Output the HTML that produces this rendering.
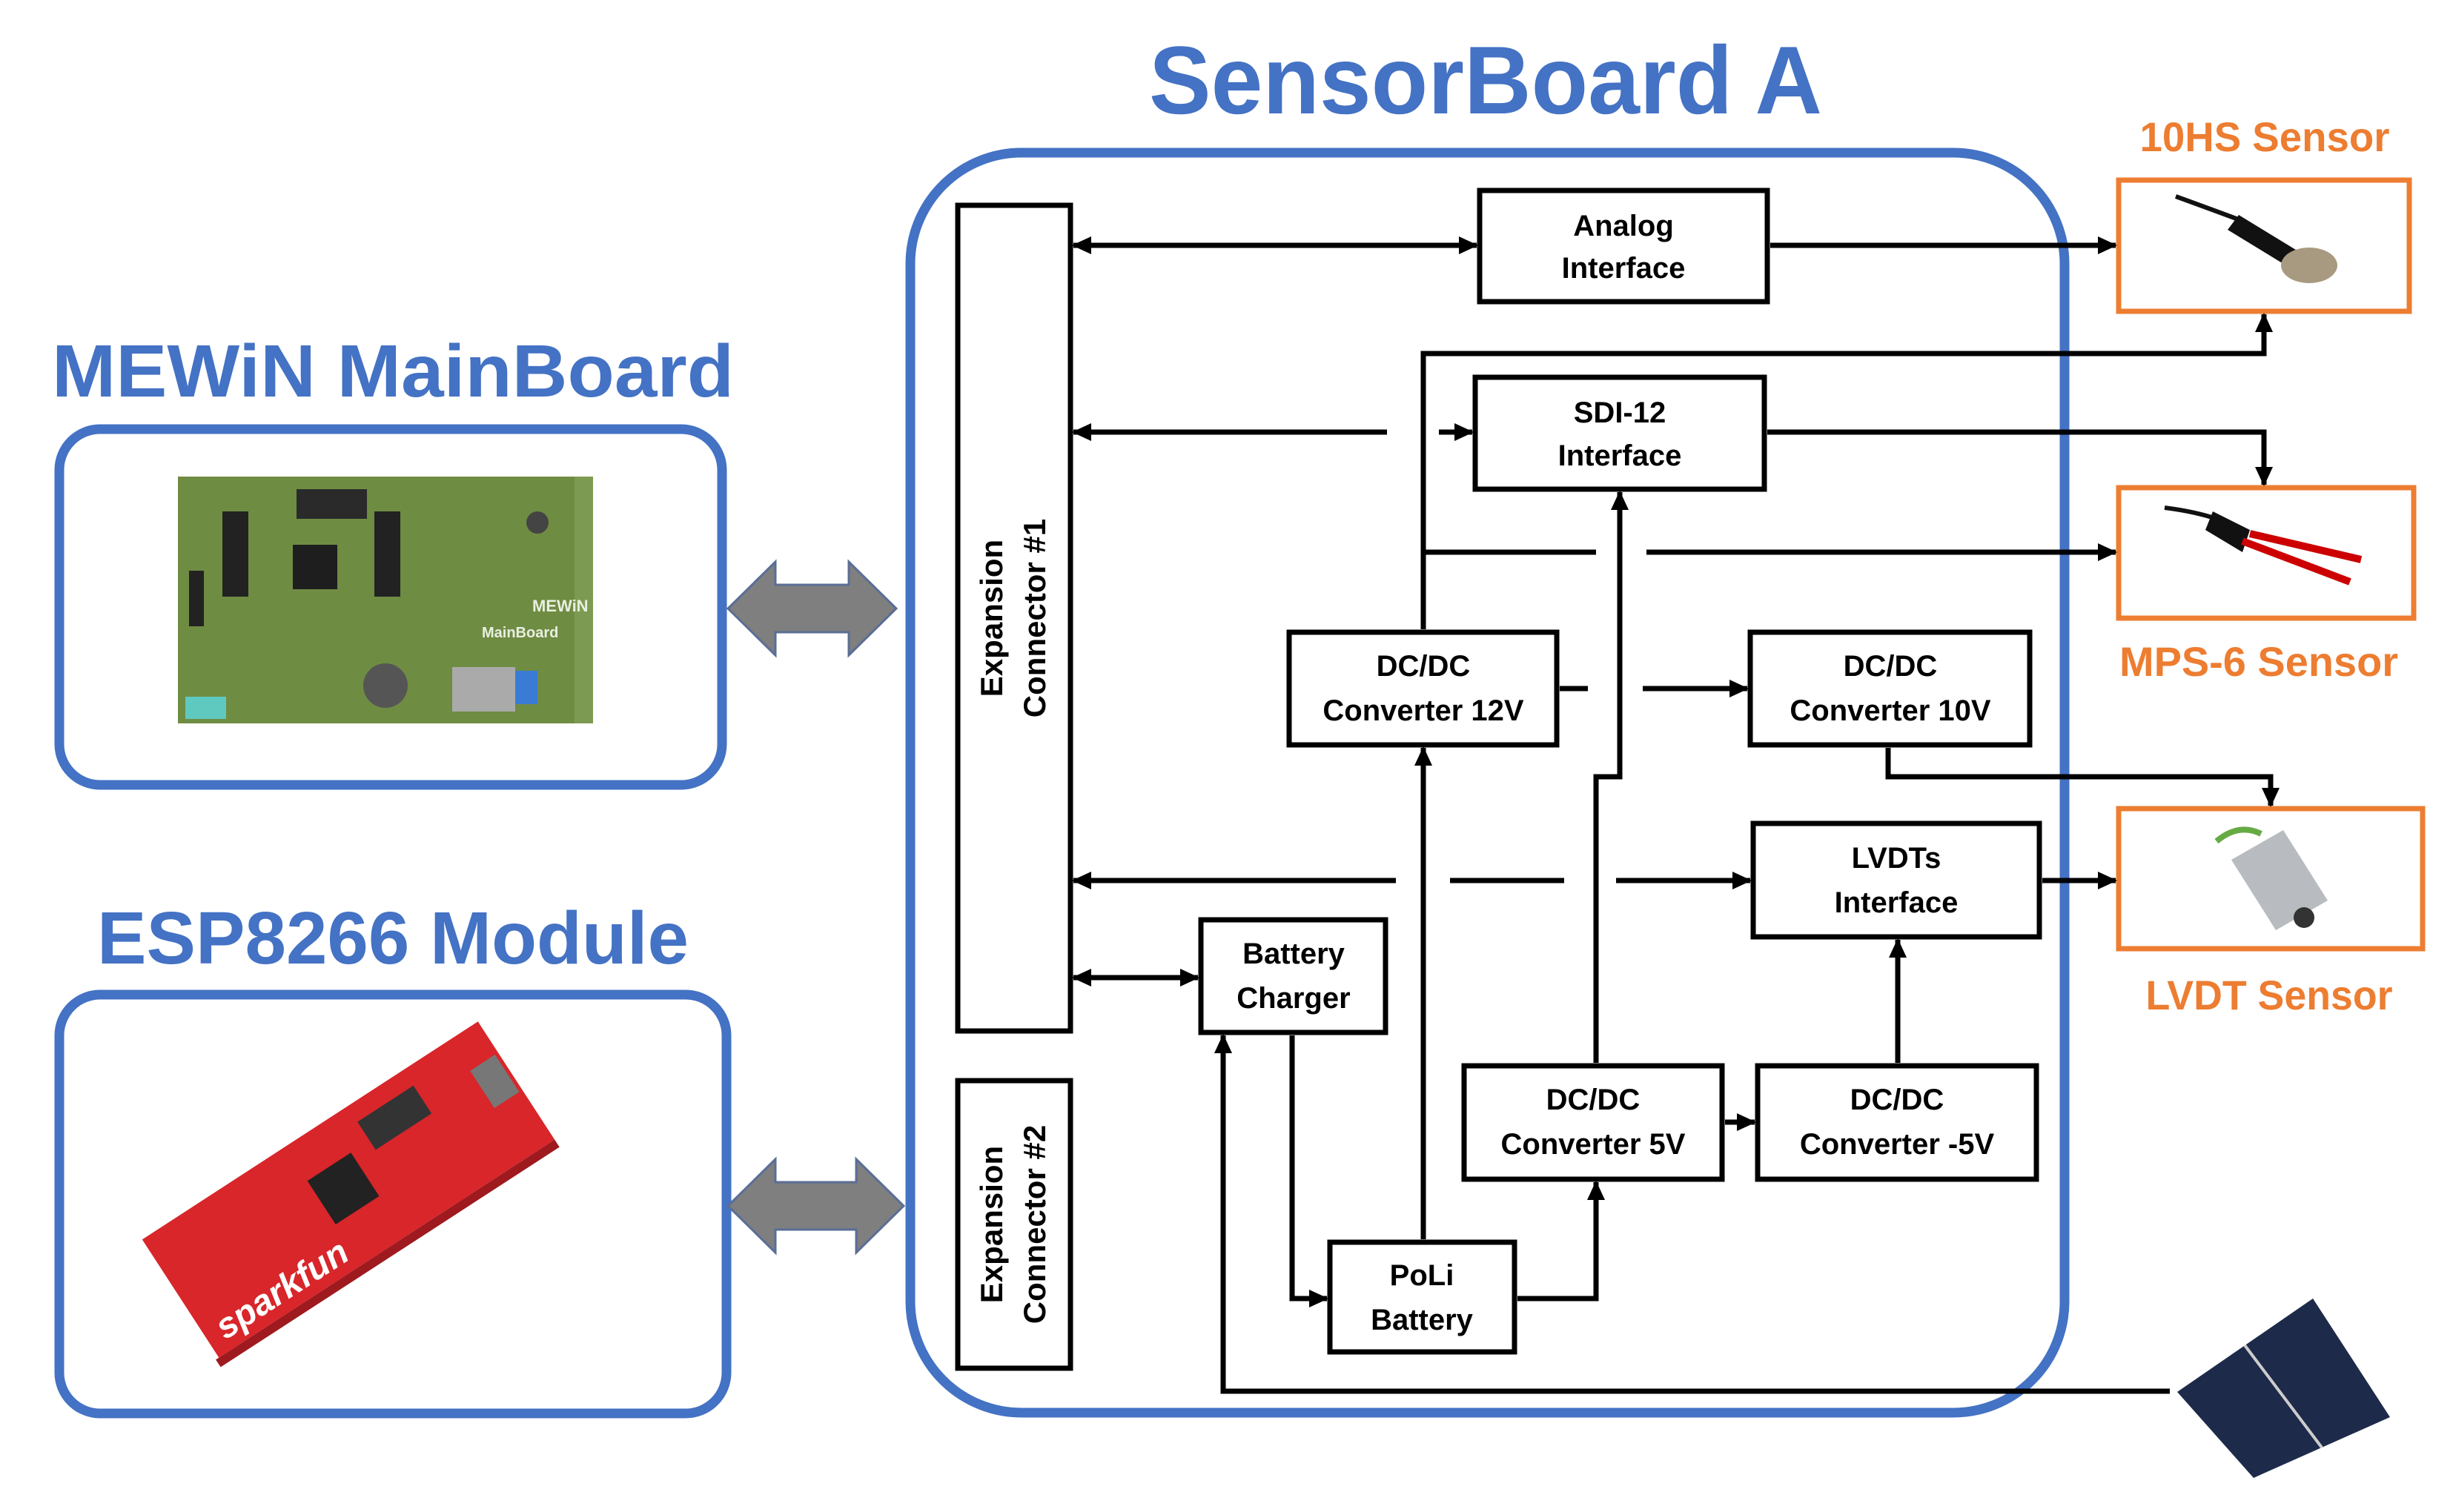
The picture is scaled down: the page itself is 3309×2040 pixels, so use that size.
<!DOCTYPE html>
<html><head><meta charset="utf-8"><style>
html,body{margin:0;padding:0;background:#fff}
svg{display:block}
text{font-family:"Liberation Sans",sans-serif;font-weight:bold}
</style></head><body>
<svg width="3309" height="2040" viewBox="0 0 3309 2040" xmlns="http://www.w3.org/2000/svg">
<defs>
<marker id="a" markerUnits="userSpaceOnUse" markerWidth="26" markerHeight="26" refX="24" refY="13" orient="auto-start-reverse">
<path d="M0,1 L26,13 L0,25 z" fill="#000"/>
</marker>
</defs>

<!-- Titles -->
<text x="2004" y="153" font-size="130" fill="#4472C4" text-anchor="middle" textLength="908" lengthAdjust="spacingAndGlyphs">SensorBoard A</text>
<text x="530" y="535" font-size="100" fill="#4472C4" text-anchor="middle" textLength="920" lengthAdjust="spacingAndGlyphs">MEWiN MainBoard</text>
<text x="530" y="1300" font-size="100" fill="#4472C4" text-anchor="middle" textLength="798" lengthAdjust="spacingAndGlyphs">ESP8266 Module</text>
<g fill="#ED7D31" font-size="56" text-anchor="middle">
<text x="3055" y="204" textLength="337" lengthAdjust="spacingAndGlyphs">10HS Sensor</text>
<text x="3047" y="912" textLength="376" lengthAdjust="spacingAndGlyphs">MPS-6 Sensor</text>
<text x="3061" y="1362" textLength="333" lengthAdjust="spacingAndGlyphs">LVDT Sensor</text>
</g>

<!-- Left boxes -->
<rect x="80" y="579" width="894" height="480" rx="55" fill="none" stroke="#4472C4" stroke-width="13"/>
<rect x="80" y="1342" width="900" height="565" rx="55" fill="none" stroke="#4472C4" stroke-width="13"/>

<!-- PCB image approx -->
<rect x="240" y="643" width="560" height="333" fill="#6f8c43"/>
<rect x="775" y="643" width="25" height="333" fill="#7d9a52"/>
<rect x="400" y="660" width="95" height="40" fill="#2a2a2a"/>
<rect x="300" y="690" width="35" height="115" fill="#222"/>
<rect x="505" y="690" width="35" height="115" fill="#222"/>
<rect x="395" y="735" width="60" height="60" fill="#1e1e1e"/>
<rect x="255" y="770" width="20" height="75" fill="#222"/>
<circle cx="520" cy="925" r="30" fill="#555"/>
<rect x="610" y="900" width="85" height="60" fill="#aaa"/>
<rect x="695" y="905" width="30" height="45" fill="#3a7bd5"/>
<rect x="250" y="940" width="55" height="30" fill="#5fc9c0"/>
<circle cx="725" cy="705" r="15" fill="#444"/>
<text x="718" y="825" font-size="22" fill="#e8efe0" font-weight="normal">MEWiN</text>
<text x="650" y="860" font-size="20" fill="#e8efe0" font-weight="normal">MainBoard</text>

<!-- ESP board approx -->
<g transform="translate(470,1605) rotate(-33)">
<rect x="-270" y="-95" width="540" height="190" fill="#d8262a"/>
<rect x="-275" y="95" width="545" height="12" fill="#9e1a1e"/>
<rect x="-40" y="-40" width="70" height="70" fill="#222"/>
<rect x="60" y="-70" width="90" height="45" fill="#333"/>
<rect x="225" y="-45" width="40" height="60" fill="#777"/>
<text x="-250" y="80" font-size="48" fill="#fff" font-style="italic">sparkfun</text>
</g>

<!-- Gray double arrows -->
<polygon points="982,821 1046,758 1046,789 1145,789 1145,758 1209,821 1145,884 1145,853 1046,853 1046,884" fill="#7f7f7f" stroke="#5a6e96" stroke-width="3"/>
<polygon points="982,1627 1046,1564 1046,1595 1155,1595 1155,1564 1219,1627 1155,1690 1155,1659 1046,1659 1046,1690" fill="#7f7f7f" stroke="#5a6e96" stroke-width="3"/>

<!-- Main board -->
<rect x="1228" y="206" width="1557" height="1700" rx="150" fill="none" stroke="#4472C4" stroke-width="13"/>

<!-- Sensor boxes -->
<g fill="none" stroke="#ED7D31" stroke-width="7">
<rect x="2858" y="243" width="392" height="177"/>
<rect x="2858" y="658" width="398" height="176"/>
<rect x="2858" y="1091" width="410" height="189"/>
</g>
<!-- sensor pictures approx -->
<path d="M2935,265 Q2990,285 3030,300" stroke="#111" stroke-width="6" fill="none"/>
<path d="M3020,290 L3110,345 L3095,365 L3005,310 z" fill="#111"/>
<ellipse cx="3115" cy="358" rx="38" ry="24" fill="#a89a80"/>
<path d="M2920,685 Q2960,690 2990,700" stroke="#111" stroke-width="6" fill="none"/>
<path d="M2985,690 L3035,715 L3025,745 L2975,715 z" fill="#111"/>
<path d="M3025,730 L3170,785" stroke="#c00" stroke-width="10"/>
<path d="M3035,720 L3185,755" stroke="#c00" stroke-width="10"/>
<path d="M2990,1135 Q3020,1110 3050,1125" stroke="#6a4" stroke-width="8" fill="none"/>
<path d="M3010,1160 L3080,1120 L3140,1215 L3070,1255 z" fill="#b8bcc0"/>
<circle cx="3108" cy="1238" r="14" fill="#333"/>
<!-- solar -->
<polygon points="2937,1878 3120,1752 3224,1912 3040,1994" fill="#1d2a4a"/>
<line x1="3028" y1="1815" x2="3132" y2="1953" stroke="#ccc" stroke-width="4"/>

<!-- Internal blocks -->
<g fill="#fff" stroke="#000" stroke-width="7">
<rect x="1292" y="277" width="152" height="1114"/>
<rect x="1292" y="1458" width="152" height="388"/>
<rect x="1996" y="257" width="388" height="150"/>
<rect x="1990" y="509" width="390" height="151"/>
<rect x="1739" y="853" width="361" height="152"/>
<rect x="2361" y="853" width="377" height="152"/>
<rect x="2365" y="1111" width="386" height="153"/>
<rect x="1620" y="1241" width="249" height="152"/>
<rect x="1975" y="1438" width="348" height="153"/>
<rect x="2371" y="1438" width="376" height="153"/>
<rect x="1794" y="1676" width="249" height="148"/>
</g>
<g font-size="40" text-anchor="middle" fill="#000">
<text x="2190" y="318">Analog</text><text x="2190" y="375">Interface</text>
<text x="2185" y="570">SDI-12</text><text x="2185" y="628">Interface</text>
<text x="1920" y="912">DC/DC</text><text x="1920" y="972">Converter 12V</text>
<text x="2550" y="912">DC/DC</text><text x="2550" y="972">Converter 10V</text>
<text x="2558" y="1171">LVDTs</text><text x="2558" y="1231">Interface</text>
<text x="1745" y="1300">Battery</text><text x="1745" y="1360">Charger</text>
<text x="2149" y="1497">DC/DC</text><text x="2149" y="1557">Converter 5V</text>
<text x="2559" y="1497">DC/DC</text><text x="2559" y="1557">Converter -5V</text>
<text x="1918" y="1734">PoLi</text><text x="1918" y="1794">Battery</text>
</g>
<g font-size="42" text-anchor="middle" fill="#000">
<text transform="translate(1352,834) rotate(-90)">Expansion</text>
<text transform="translate(1410,834) rotate(-90)">Connector #1</text>
<text transform="translate(1352,1652) rotate(-90)">Expansion</text>
<text transform="translate(1410,1652) rotate(-90)">Connector #2</text>
</g>

<!-- Connectors -->
<g fill="none" stroke="#000" stroke-width="7">
<line x1="1448" y1="331" x2="1992" y2="331" marker-start="url(#a)" marker-end="url(#a)"/>
<line x1="2388" y1="331" x2="2854" y2="331" marker-end="url(#a)"/>
<polyline points="1920,849 1920,477 3054,477 3054,424" marker-end="url(#a)"/>
<line x1="1871" y1="583" x2="1448" y2="583" marker-end="url(#a)"/>
<line x1="1941" y1="583" x2="1986" y2="583" marker-end="url(#a)"/>
<polyline points="2384,583 3054,583 3054,654" marker-end="url(#a)"/>
<line x1="1920" y1="745" x2="2153" y2="745"/>
<line x1="2221" y1="745" x2="2854" y2="745" marker-end="url(#a)"/>
<polyline points="2153,1434 2153,1048 2185,1048 2185,664" marker-end="url(#a)"/>
<line x1="2104" y1="929" x2="2142" y2="929"/>
<line x1="2216" y1="929" x2="2357" y2="929" marker-end="url(#a)"/>
<polyline points="2547,1009 2547,1048 3063,1048 3063,1087" marker-end="url(#a)"/>
<line x1="1883" y1="1188" x2="1448" y2="1188" marker-end="url(#a)"/>
<line x1="1956" y1="1188" x2="2110" y2="1188"/>
<line x1="2180" y1="1188" x2="2361" y2="1188" marker-end="url(#a)"/>
<line x1="2755" y1="1188" x2="2854" y2="1188" marker-end="url(#a)"/>
<line x1="1448" y1="1319" x2="1616" y2="1319" marker-start="url(#a)" marker-end="url(#a)"/>
<polyline points="1743,1397 1743,1752 1790,1752" marker-end="url(#a)"/>
<line x1="1920" y1="1672" x2="1920" y2="1009" marker-end="url(#a)"/>
<polyline points="2047,1752 2153,1752 2153,1595" marker-end="url(#a)"/>
<line x1="2327" y1="1514" x2="2367" y2="1514" marker-end="url(#a)"/>
<line x1="2560" y1="1434" x2="2560" y2="1268" marker-end="url(#a)"/>
<polyline points="2927,1877 1650,1877 1650,1397" marker-end="url(#a)"/>
</g>
</svg>
</body></html>
